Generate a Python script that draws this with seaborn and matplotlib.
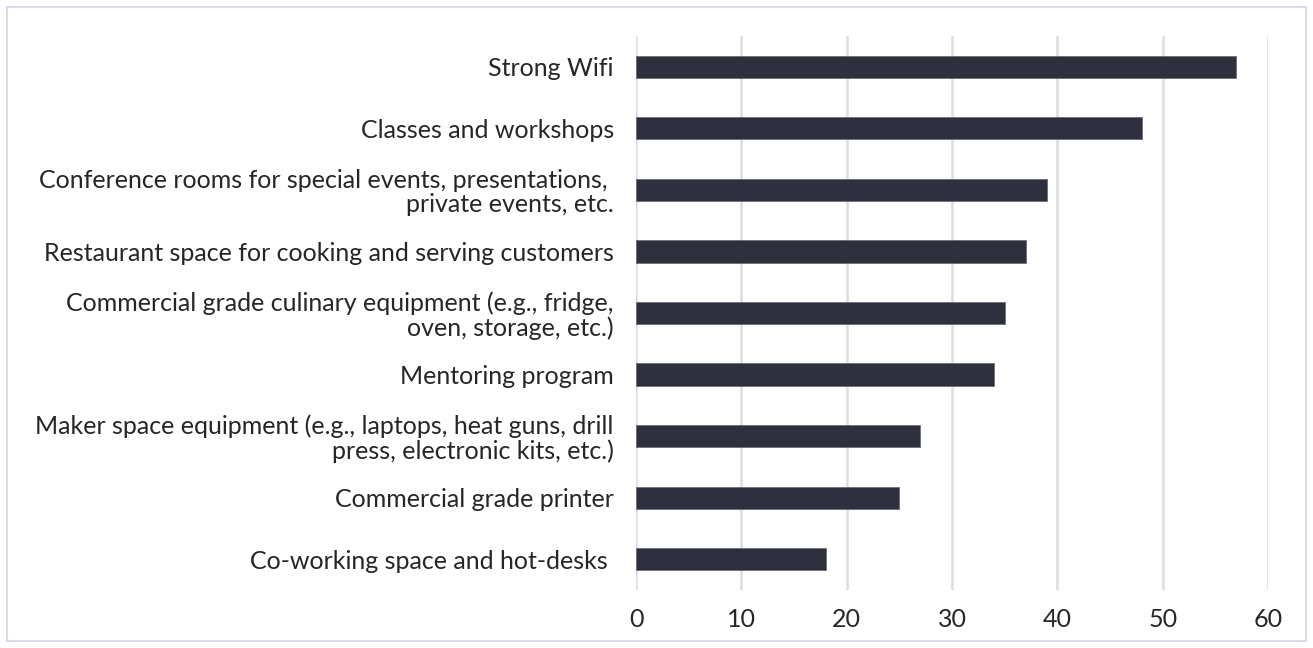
import matplotlib
matplotlib.use("Agg")
import matplotlib.pyplot as plt
import seaborn as sns
import pandas as pd
from matplotlib.patches import Rectangle

categories = [
    "Strong Wifi",
    "Classes and workshops",
    "Conference rooms for special events, presentations, \nprivate events, etc.",
    "Restaurant space for cooking and serving customers",
    "Commercial grade culinary equipment (e.g., fridge,\noven, storage, etc.)",
    "Mentoring program",
    "Maker space equipment (e.g., laptops, heat guns, drill\npress, electronic kits, etc.)",
    "Commercial grade printer",
    "Co-working space and hot-desks ",
]
values = [57, 48, 39, 37, 35, 34, 27, 25, 18]
x_ticks = [0, 10, 20, 30, 40, 50, 60]

df = pd.DataFrame({"feature": categories, "count": values})

sns.set_theme(style="white")
plt.rcParams["font.family"] = ["Lato", "DejaVu Sans"]

fig = plt.figure(figsize=(13.13, 6.48), dpi=100)
ax = fig.add_axes([636 / 1313, 1 - 590 / 648, (1268 - 636) / 1313, (590 - 36) / 648])

sns.barplot(data=df, x="count", y="feature", orient="h", color="#2b2f40",
            width=0.36, edgecolor="#6b6e7a", linewidth=0.6, ax=ax, zorder=3)

ax.set_xlim(0, 60)
ax.set_ylim(len(categories) - 0.5, -0.5)
ax.set_xticks(x_ticks)
ax.set_xticklabels([str(t) for t in x_ticks])
ax.xaxis.grid(True, color="#dcdde6", linewidth=1.8, zorder=0)
ax.yaxis.grid(False)
for s in ax.spines.values():
    s.set_visible(False)
ax.tick_params(axis="y", length=0, pad=16, labelsize=18, labelcolor="#262626")
ax.tick_params(axis="x", length=0, pad=13, labelsize=18, labelcolor="#262626")
for lbl in ax.get_yticklabels():
    lbl.set_multialignment("right")
    lbl.set_linespacing(1.05)
ax.set_xlabel("")
ax.set_ylabel("")

# light frame around the whole figure
fig.patches.append(Rectangle((7 / 1313, 7 / 648), 1 - 14 / 1313, 1 - 14 / 648,
                             transform=fig.transFigure, fill=False,
                             edgecolor="#d9dce8", linewidth=1.5))

fig.savefig("out.png", dpi=100, facecolor="white")
